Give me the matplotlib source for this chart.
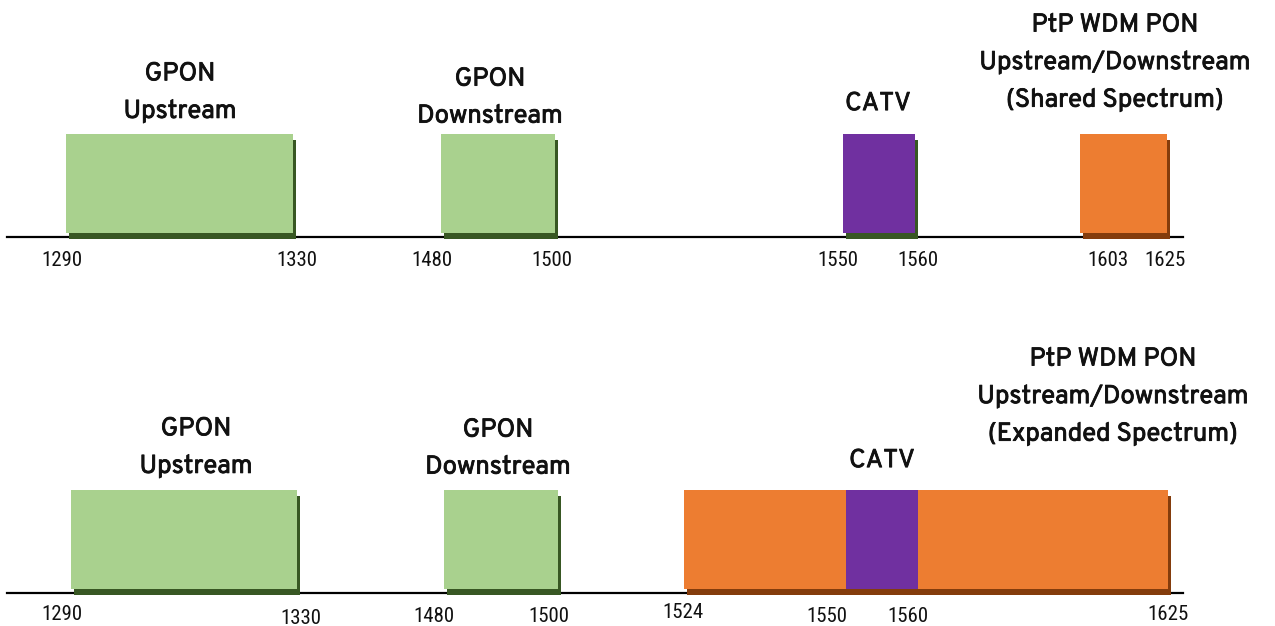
import matplotlib
matplotlib.use("Agg")
import matplotlib.pyplot as plt
import matplotlib.patheffects as pe
import numpy as np

# wavelength bands (nm) for each row
top_names = ["GPON\nUpstream", "GPON\nDownstream", "CATV",
             "PtP WDM PON\nUpstream/Downstream\n(Shared Spectrum)"]
top_start = [1290, 1480, 1550, 1603]
top_end = [1330, 1500, 1560, 1625]
top_colors = ["#A9D18E", "#A9D18E", "#7030A0", "#ED7D31"]

bot_names = ["GPON\nUpstream", "GPON\nDownstream",
             "PtP WDM PON\nUpstream/Downstream\n(Expanded Spectrum)", "CATV"]
bot_start = [1290, 1480, 1524, 1550]
bot_end = [1330, 1500, 1625, 1560]
bot_colors = ["#A9D18E", "#A9D18E", "#ED7D31", "#7030A0"]

top_ticks = [1290, 1330, 1480, 1500, 1550, 1560, 1603, 1625]
bot_ticks = [1290, 1330, 1480, 1500, 1524, 1550, 1560, 1625]

W, H = 1275, 626
fig = plt.figure(figsize=(W / 100, H / 100), dpi=100)

shadow_col = {"#A9D18E": "#385723", "#7030A0": "#385723", "#ED7D31": "#843C0C"}
tick_font = ["Roboto Condensed", "Liberation Sans Narrow", "DejaVu Sans"]
label_font = ["Overpass", "Open Sans", "DejaVu Sans"]
text_col = "#111111"


def make_axes(anchor_nm, anchor_px):
    # schematic (not to scale) wavelength axis: piecewise linear mapping
    ax = fig.add_axes([0, 0, 1, 1])
    nm = np.array(anchor_nm, float)
    px = np.array(anchor_px, float)
    fwd = lambda x: np.interp(x, nm, px)
    inv = lambda p: np.interp(p, px, nm)
    ax.set_xscale("function", functions=(fwd, inv))
    ax.set_xlim(nm[0], nm[-1])
    ax.set_ylim(H, 0)
    ax.axis("off")
    ax.patch.set_alpha(0)
    return ax


def draw_row(ax, starts, ends, colors, base, top, shadows, ticks, tick_dx, tick_y,
             names, name_xy):
    # baseline from x=7px to x=1183px
    ax.axhline(base, xmin=7 / W, xmax=1183 / W, color="black", lw=1.6, zorder=1)
    for s, e, c, sh in zip(starts, ends, colors, shadows):
        b = ax.bar(s, -(base - 4 - top), width=e - s, bottom=base - 4, align="edge",
                   color=c, zorder=2, linewidth=0)
        if sh:
            b[0].set_path_effects([pe.SimplePatchShadow(offset=(2.2, -4.2),
                                                        shadow_rgbFace=shadow_col[c],
                                                        alpha=1.0), pe.Normal()])
    for t, dx, ty in zip(ticks, tick_dx, tick_y):
        ax.annotate(str(t), (t, ty), xytext=(dx * 0.72, 0), textcoords="offset points",
                    ha="center", va="center", fontsize=15,
                    family=tick_font, color=text_col)
    for n, (x, y) in zip(names, name_xy):
        ax.text(x, y, n, transform=None, ha="center", va="center", fontsize=18.5,
                fontweight="bold", family=label_font, linespacing=1.65, color=text_col,
                path_effects=[pe.Stroke(linewidth=0.6, foreground=text_col), pe.Normal()])


ax1 = make_axes([1200, 1290, 1330, 1480, 1500, 1550, 1560, 1603, 1625, 1700],
                [0, 66, 293, 441, 555, 843, 915, 1080, 1167, W])
draw_row(ax1, top_start, top_end, top_colors, 237, 134, [True, True, True, True],
         top_ticks, [-4, 4, -9, -3, -5, 3, 28, -2], [260] * 8,
         top_names, [(180, H - 92), (490, H - 97), (878, H - 103), (1115, H - 62)])

ax2 = make_axes([1200, 1290, 1330, 1480, 1500, 1524, 1550, 1560, 1625, 1700],
                [0, 71, 297, 444, 558, 684, 846, 918, 1168, W])
draw_row(ax2, bot_start, bot_end, bot_colors, 593, 490, [True, True, True, False],
         bot_ticks, [-9, 4, -10, -9, -1, -19, -10, 0],
         [614, 618, 616, 616, 613, 617, 617, 615],
         bot_names, [(196, H - 447), (498, H - 448), (1113, H - 396), (882, H - 460)])

fig.savefig("out.png", dpi=100)
